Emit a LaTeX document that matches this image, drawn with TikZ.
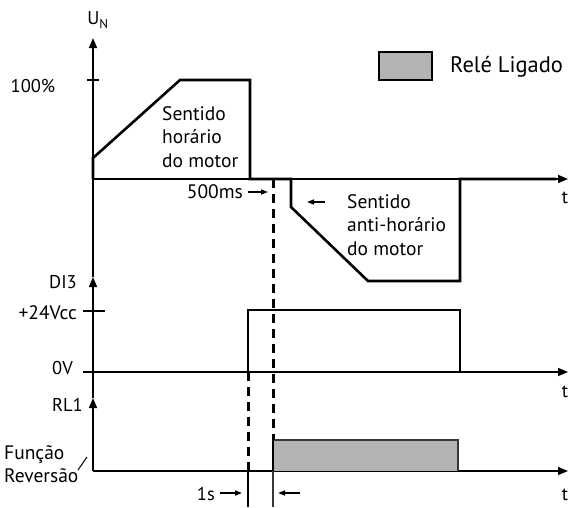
\documentclass[tikz,border=0pt]{standalone}
\usepackage{fontspec}
\setmainfont{PT Sans}
\usetikzlibrary{arrows.meta}
\definecolor{relay}{RGB}{179,179,179}
\definecolor{relayedge}{RGB}{55,55,55}

\begin{document}
\begin{tikzpicture}[x=1pt, y=-1pt,
    every node/.style={font=\fontsize{18.5}{23.5}\selectfont, inner sep=0pt},
    big/.style={font=\fontsize{19.5}{23.5}\selectfont},
    axis/.style={line width=1.5pt, -{Triangle[length=10pt, width=8pt]}},
    trace/.style={line width=2.6pt, line join=miter},
    marker/.style={line width=3pt, dash pattern=on 9pt off 6pt},
    guide/.style={line width=1.5pt},
    timing/.style={line width=1.5pt, -{Triangle[length=7pt, width=5pt]}}]
  \useasboundingbox (0,0) rectangle (569,507);

  % axes
  \coordinate (ybot) at (93,471);
  \coordinate (yrl) at (93,398);
  \coordinate (ydi) at (93,277);
  \coordinate (ytop) at (93,38);
  \draw[axis] (ybot) -- (yrl);
  \draw[axis] (yrl) -- (ydi);
  \draw[axis] (ydi) -- (ytop);
  \draw[axis] (93,179) coordinate (o1) -- (568,179) coordinate (e1);
  \draw[axis] (83,372) coordinate (o2) -- (568,372) coordinate (e2);
  \draw[axis] (ybot) -- (568,471) coordinate (e3);
  \draw[line width=2.5pt] (87,80) coordinate (k1) -- (99,80) coordinate (k2);
  \draw[guide] (83,311) coordinate (k3) -- (105,311) coordinate (k4);

  % motor voltage
  \draw[trace] (o1) -- (93,158) -- (180,80) -- (250,80) -- (250,179)
    -- (291,179) -- (291,207) -- (368,281) -- (460,281) -- (460,179) -- (556,179);

  % DI3 and relay
  \draw[line width=2pt] (248,372) coordinate (di3up) -- (248,310) -- (460,310) -- (460,372);
  \fill[relay] (273,440) rectangle (458,471);
  \draw[relayedge, line width=1.5pt] (273,440) coordinate (rlon) -- (458,440) -- (458,471);

  % time marks
  \coordinate (m1) at (248,507);
  \coordinate (m2) at (273,507);
  \coordinate (m2top) at (273,179);
  \draw[marker] (di3up) -- (248,471);
  \draw[marker] (m2top) -- (rlon);
  \draw[line width=2pt] (rlon) -- (273,471);
  \draw[guide] (248,471) -- (m1);
  \draw[guide, relayedge] (273,471) -- (m2);

  % labels
  \node (un) at (98,20) {U\textsubscript{N}};
  \node (cem) at (33,86) {100\%};
  \node[big, align=left, anchor=west] (cw) at (162,137) {Sentido\\horário\\do motor};
  \node[big, align=left, anchor=west] (ccw) at (347,225) {Sentido\\anti-horário\\do motor};
  \node (t1) at (565,198) {t};
  \node (t2) at (565,392) {t};
  \node (t3) at (565,495) {t};
  \node[anchor=east] (di3) at (77,282) {DI3};
  \node[big, anchor=east] (vcc) at (77,313) {+24Vcc};
  \node[anchor=east] (zerov) at (73,368) {0V};
  \node[anchor=east] (rl1) at (83,405) {RL1};
  \node[big, align=left, anchor=west] (funcrev) at (4,464) {Função\\Reversão};
  \node[big, anchor=east] (ms500) at (243,192) {500ms};
  \node[anchor=east] (ones) at (215,494) {1s};

  % arrows
  \coordinate (a500) at (268,192);
  \coordinate (accw) at (307,202);
  \coordinate (a1s) at (242,493);
  \coordinate (a1sb) at (278,493);
  \draw[timing] ([xshift=5pt]ms500.east) -- (a500);
  \draw[timing] ([xshift=-22pt]ccw.north west |- accw) -- (accw);
  \draw[timing] ([xshift=5pt]ones.east |- a1s) -- (a1s);
  \draw[timing] ([xshift=22pt]a1sb) -- (a1sb);
  \draw[line width=1pt] (78,470) coordinate (s1) -- (87,457) coordinate (s2);

  % legend
  \node[draw, fill=relay, line width=2.5pt, minimum width=53pt, minimum height=28pt]
    (legbox) at (405.5,66) {};
  \node[anchor=west, font=\fontsize{22.5}{26}\selectfont] (legtxt) at (450,67) {Relé Ligado};
\end{tikzpicture}
\end{document}
